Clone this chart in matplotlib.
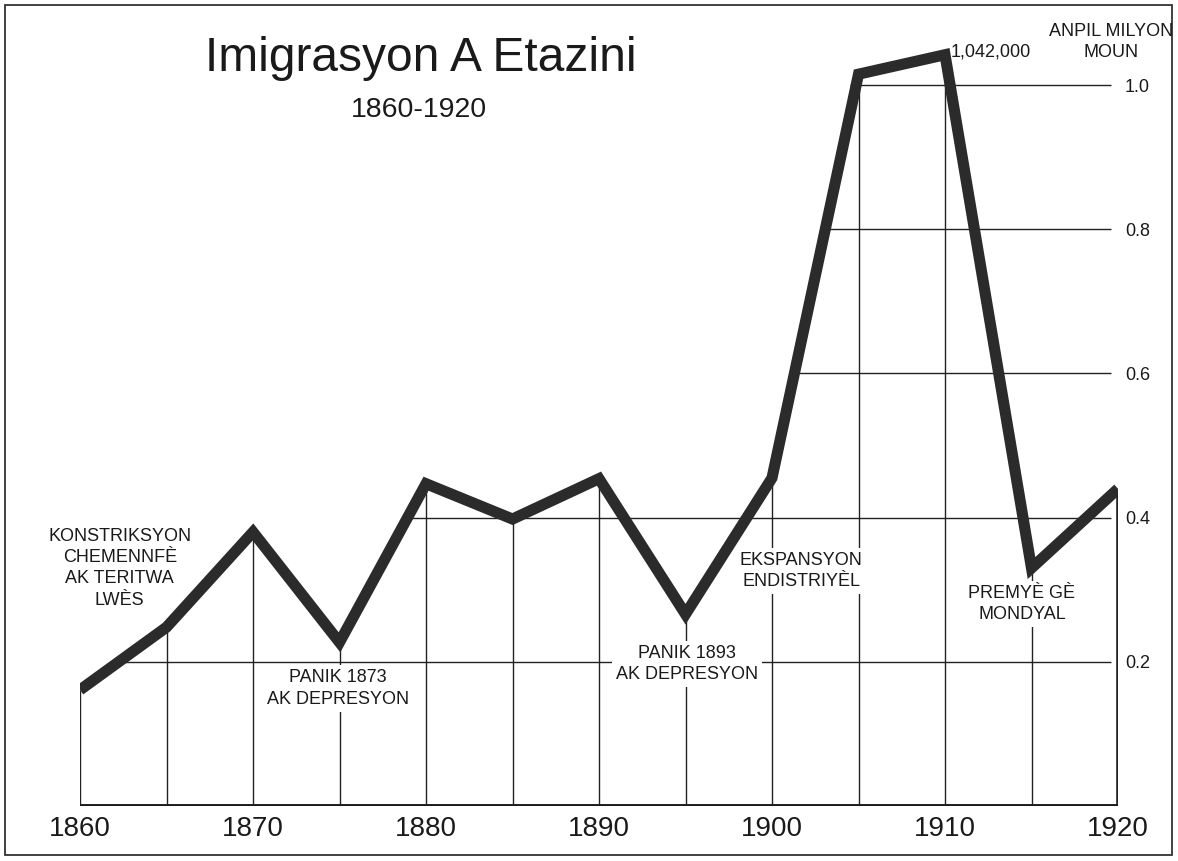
import matplotlib
matplotlib.use("Agg")
import matplotlib.pyplot as plt
from matplotlib.patches import Rectangle

plt.rcParams['font.family'] = ['Liberation Sans', 'DejaVu Sans']

# data (millions of immigrants)
years = [1860, 1865, 1870, 1875, 1880, 1885, 1890, 1895, 1900, 1905, 1910, 1915, 1920]
immigrants = [0.161, 0.248, 0.38, 0.227, 0.447, 0.398, 0.454, 0.266, 0.455, 1.015, 1.042, 0.33, 0.44]

grid_levels = [0.2, 0.4, 0.6, 0.8, 1.0]
grid_starts = [1862.5, 1879.0, 1901.4, 1903.2, 1904.5]
y_labels = ["0.2", "0.4", "0.6", "0.8", "1.0"]
x_ticks = [1860, 1870, 1880, 1890, 1900, 1910, 1920]

events = [
    ("KONSTRIKSYON\nCHEMENNFÈ\nAK TERITWA\nLWÈS", 1862.3, 0.33),
    ("PANIK 1873\nAK DEPRESYON", 1874.9, 0.163),
    ("PANIK 1893\nAK DEPRESYON", 1895.1, 0.197),
    ("EKSPANSYON\nENDISTRIYÈL", 1901.7, 0.326),
    ("PREMYÈ GÈ\nMONDYAL", 1914.45, 0.28),
]

fig = plt.figure(figsize=(11.78, 8.61), dpi=100)
ax = fig.add_axes([80 / 1178, 55 / 861, 1038 / 1178, 1.1 * 721 / 861])
ax.set_xlim(1860, 1920)
ax.set_ylim(0, 1.1)
for s in ax.spines.values():
    s.set_visible(False)

# horizontal guide lines
for lvl, x0 in zip(grid_levels, grid_starts):
    ax.hlines(lvl, x0, 1919.6, color='#222222', lw=1.0, zorder=1)

# vertical drop lines
for yr, v in zip(years, immigrants):
    ax.vlines(yr, 0, v, color='#222222', lw=2.6 if yr == 1920 else 1.0, zorder=1)

ax.hlines(0, 1860, 1920, color='#1a1a1a', lw=2.8, zorder=2)

ax.plot(years, immigrants, color='#2b2b2b', lw=8, solid_joinstyle='miter',
        solid_capstyle='butt', zorder=5)

for txt, x, y in events:
    box = None if x < 1863 else dict(fc='white', ec='none', pad=3)
    ax.text(x, y, txt, ha='center', va='center', fontsize=13, color='#1a1a1a',
            linespacing=1.33, bbox=box, zorder=3)

ax.text(1910.35, 1.046, "1,042,000", ha='left', va='center', fontsize=13,
        color='#1a1a1a', clip_on=False)

ax.set_xticks(x_ticks)
ax.set_xticklabels([str(x) for x in x_ticks], fontsize=20, color='#1a1a1a')
ax.yaxis.tick_right()
ax.set_yticks(grid_levels)
ax.set_yticklabels(y_labels, fontsize=13, color='#1a1a1a')
ax.tick_params(axis='x', length=0, pad=7)
ax.tick_params(axis='y', length=0, pad=5)

fig.text(421 / 1178, 1 - 71 / 861, "Imigrasyon A Etazini", ha='center',
         va='baseline', fontsize=34.5, color='#1a1a1a')
fig.text(419 / 1178, 1 - 117 / 861, "1860-1920", ha='center', va='baseline',
         fontsize=20.5, color='#1a1a1a')
fig.text(1111 / 1178, 1 - 42 / 861, "ANPIL MILYON\nMOUN", ha='center',
         va='center', fontsize=13, color='#1a1a1a', linespacing=1.28)

fig.patches.append(Rectangle((5 / 1178, 6 / 861), 1167 / 1178, 850 / 861,
                             transform=fig.transFigure, fill=False,
                             ec='#333333', lw=1.3))

fig.savefig("out.png", dpi=100)
